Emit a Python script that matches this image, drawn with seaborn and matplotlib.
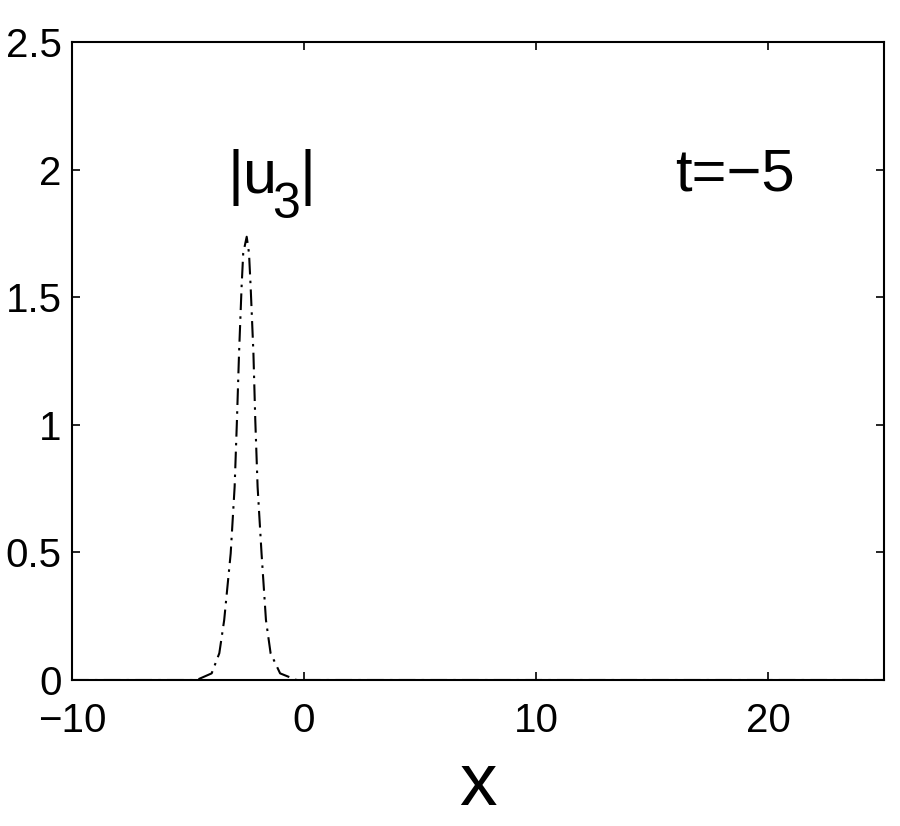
import matplotlib
matplotlib.use("Agg")
import matplotlib.pyplot as plt
import seaborn as sns
import pandas as pd

# Values
x_vals = [-10, -4.63, -3.98, -3.65, -3.44, -3.16, -2.99, -2.89, -2.80, -2.69, -2.62,
          -2.47, -2.37, -2.30, -2.18, -2.10, -2.00, -1.83, -1.64, -1.44, -1.03, -0.32, 25]
u3_vals = [0, 0, 0.026, 0.105, 0.235, 0.496, 0.757, 1.019, 1.280, 1.541, 1.672,
           1.737, 1.672, 1.541, 1.280, 1.019, 0.757, 0.496, 0.235, 0.105, 0.026, 0, 0]
x_ticks = [-10, 0, 10, 20]
y_ticks = [0, 0.5, 1, 1.5, 2, 2.5]
x_tick_labels = ["\u221210", "0", "10", "20"]
y_tick_labels = ["0", "0.5", "1", "1.5", "2", "2.5"]
curve_label_parts = ["|u", "3", "|"]
time_label = "t=\u22125"
x_label = "x"

sns.set_style("ticks")
plt.rcParams["font.family"] = ["Liberation Sans", "DejaVu Sans"]
plt.rcParams["text.color"] = "black"
plt.rcParams["axes.labelcolor"] = "black"

df = pd.DataFrame({"x": x_vals, "u": u3_vals})

fig = plt.figure(figsize=(9, 8.26), dpi=100)
ax = fig.add_axes([72 / 900, 1 - 680 / 826, (884 - 72) / 900, (680 - 42) / 826])

sns.lineplot(data=df, x="x", y="u", ax=ax, sort=False, color="black",
             linewidth=1.5, dashes=False)
ax.lines[0].set_dashes([8.0, 3.0, 1.2, 3.0])

ax.set_xlim(-10, 25)
ax.set_ylim(0, 2.5)
ax.set_xticks(x_ticks)
ax.set_xticklabels(x_tick_labels)
ax.set_yticks(y_ticks)
ax.set_yticklabels(y_tick_labels)
ax.tick_params(direction="in", length=6, width=1.2, labelsize=29,
               top=True, right=True, colors="black")
ax.tick_params(axis="y", pad=7.5)
ax.tick_params(axis="x", pad=16)
for s in ax.spines.values():
    s.set_visible(True)
    s.set_linewidth(1.5)
    s.set_color("black")

ax.set_xlabel(x_label, fontsize=54, labelpad=8)
ax.set_ylabel("")

ax.text(-3.3, 1.91, curve_label_parts[0], fontsize=44, ha="left", va="baseline")
ax.text(-1.38, 1.81, curve_label_parts[1], fontsize=36, ha="left", va="baseline")
ax.text(-0.2, 1.91, curve_label_parts[2], fontsize=44, ha="left", va="baseline")
ax.text(16.0, 1.92, time_label, fontsize=43, ha="left", va="baseline")

fig.savefig("out.png", dpi=100)
